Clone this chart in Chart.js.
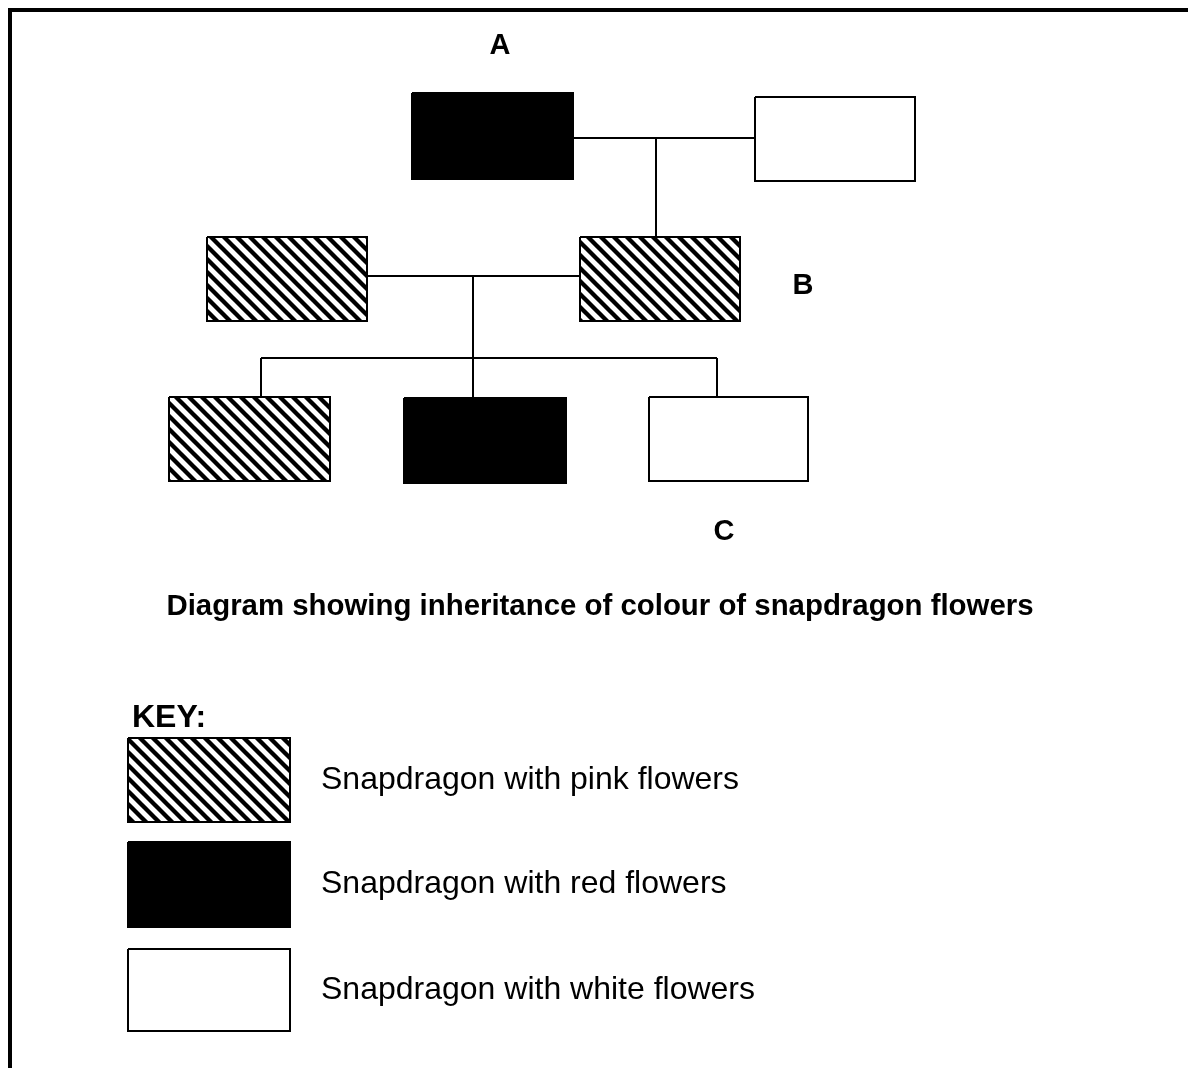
<!DOCTYPE html>
<html>
<head>
<meta charset="utf-8">
<script src="https://cdn.jsdelivr.net/npm/chart.js@4/dist/chart.umd.min.js"></script>
<style>
html,body{margin:0;padding:0;background:#fff;}
canvas{display:block;}
</style>
</head>
<body>
<canvas id="c" width="1188" height="1068"></canvas>
<script>
// ---- Diagram data (in diagram units) ----
const nodeKinds = ['red', 'white', 'pink', 'pink', 'pink', 'red', 'white'];
const nodeLeft   = [412, 755, 207, 580, 169, 404, 649];
const nodeTop    = [93, 97, 237, 237, 397, 398, 397];
const nodeRight  = [573, 915, 367, 740, 330, 566, 808];
const nodeBottom = [179, 181, 321, 321, 481, 483, 481];

const linkX = [[573, 755], [656, 656], [367, 580], [473, 473], [261, 717], [261, 261], [717, 717]];
const linkY = [[138, 138], [138, 237], [276, 276], [276, 398], [358, 358], [358, 397], [358, 397]];

const letterLabels = ['A', 'B', 'C'];
const letterX = [500, 803, 724];
const letterY = [46, 286, 532];

const titleText = 'Diagram showing inheritance of colour of snapdragon flowers';
const keyTitle = 'KEY:';
const keyKinds = ['pink', 'red', 'white'];
const keyTexts = ['Snapdragon with pink flowers', 'Snapdragon with red flowers', 'Snapdragon with white flowers'];
const keyTop = [738, 842, 949];
const keyBottom = [822, 927, 1031];
const keyLeft = 128, keyRight = 290, keyTextX = 321;

// ---- styles ----
function makeHatch() {
  const s = 13;
  const c = document.createElement('canvas');
  c.width = s; c.height = s;
  const g = c.getContext('2d');
  g.fillStyle = '#fff'; g.fillRect(0, 0, s, s);
  g.strokeStyle = '#000'; g.lineWidth = 4.3;
  g.beginPath();
  g.moveTo(-4, -4); g.lineTo(s + 4, s + 4);
  g.moveTo(-4, s - 4); g.lineTo(4, s + 4);
  g.moveTo(s - 4, -4); g.lineTo(s + 4, 4);
  g.stroke();
  return g.createPattern(c, 'repeat');
}
const hatch = makeHatch();
const fillFor = k => k === 'red' ? '#000' : (k === 'white' ? '#fff' : hatch);

function rectDataset(l, t, r, b, kind) {
  return {
    data: [{x: l, y: t}, {x: r, y: t}, {x: r, y: b}, {x: l, y: b}, {x: l, y: t}],
    showLine: true, fill: 'shape', backgroundColor: fillFor(kind),
    borderColor: '#000', borderWidth: 2, pointRadius: 0, tension: 0,
    borderJoinStyle: 'miter'
  };
}

const datasets = [];
// frame (left + top edges)
datasets.push({
  data: [{x: 10, y: 1068}, {x: 10, y: 10}, {x: 1188, y: 10}],
  showLine: true, fill: false, borderColor: '#000', borderWidth: 4, pointRadius: 0,
  borderJoinStyle: 'miter'
});
linkX.forEach((xs, i) => {
  datasets.push({
    data: xs.map((x, j) => ({x: x, y: linkY[i][j]})),
    showLine: true, fill: false, borderColor: '#000', borderWidth: 2, pointRadius: 0
  });
});
nodeKinds.forEach((k, i) => datasets.push(rectDataset(nodeLeft[i], nodeTop[i], nodeRight[i], nodeBottom[i], k)));
keyKinds.forEach((k, i) => datasets.push(rectDataset(keyLeft, keyTop[i], keyRight, keyBottom[i], k)));

const textPlugin = {
  id: 'texts',
  afterDraw(chart) {
    const ctx = chart.ctx, xs = chart.scales.x, ys = chart.scales.y;
    ctx.save();
    ctx.fillStyle = '#000';
    ctx.textBaseline = 'middle';
    ctx.textAlign = 'center';
    ctx.font = 'bold 29px "Liberation Sans", Arial, sans-serif';
    letterLabels.forEach((t, i) => ctx.fillText(t, xs.getPixelForValue(letterX[i]), ys.getPixelForValue(letterY[i])));
    ctx.font = 'bold 29.4px "Liberation Sans", Arial, sans-serif';
    ctx.fillText(titleText, xs.getPixelForValue(600), ys.getPixelForValue(607));
    ctx.textAlign = 'left';
    ctx.font = 'bold 32px "Liberation Sans", Arial, sans-serif';
    ctx.fillText(keyTitle, xs.getPixelForValue(132), ys.getPixelForValue(718));
    ctx.font = '32px "Liberation Sans", Arial, sans-serif';
    keyTexts.forEach((t, i) => ctx.fillText(t, xs.getPixelForValue(keyTextX), ys.getPixelForValue((keyTop[i] + keyBottom[i]) / 2)));
    ctx.restore();
  }
};

new Chart(document.getElementById('c'), {
  type: 'scatter',
  data: {datasets},
  options: {
    responsive: false, animation: false, devicePixelRatio: 1,
    layout: {padding: 0},
    plugins: {legend: {display: false}, tooltip: {enabled: false}},
    scales: {
      x: {type: 'linear', min: 0, max: 1188, display: false},
      y: {type: 'linear', min: 0, max: 1068, reverse: true, display: false}
    }
  },
  plugins: [textPlugin]
});
</script>
</body>
</html>
